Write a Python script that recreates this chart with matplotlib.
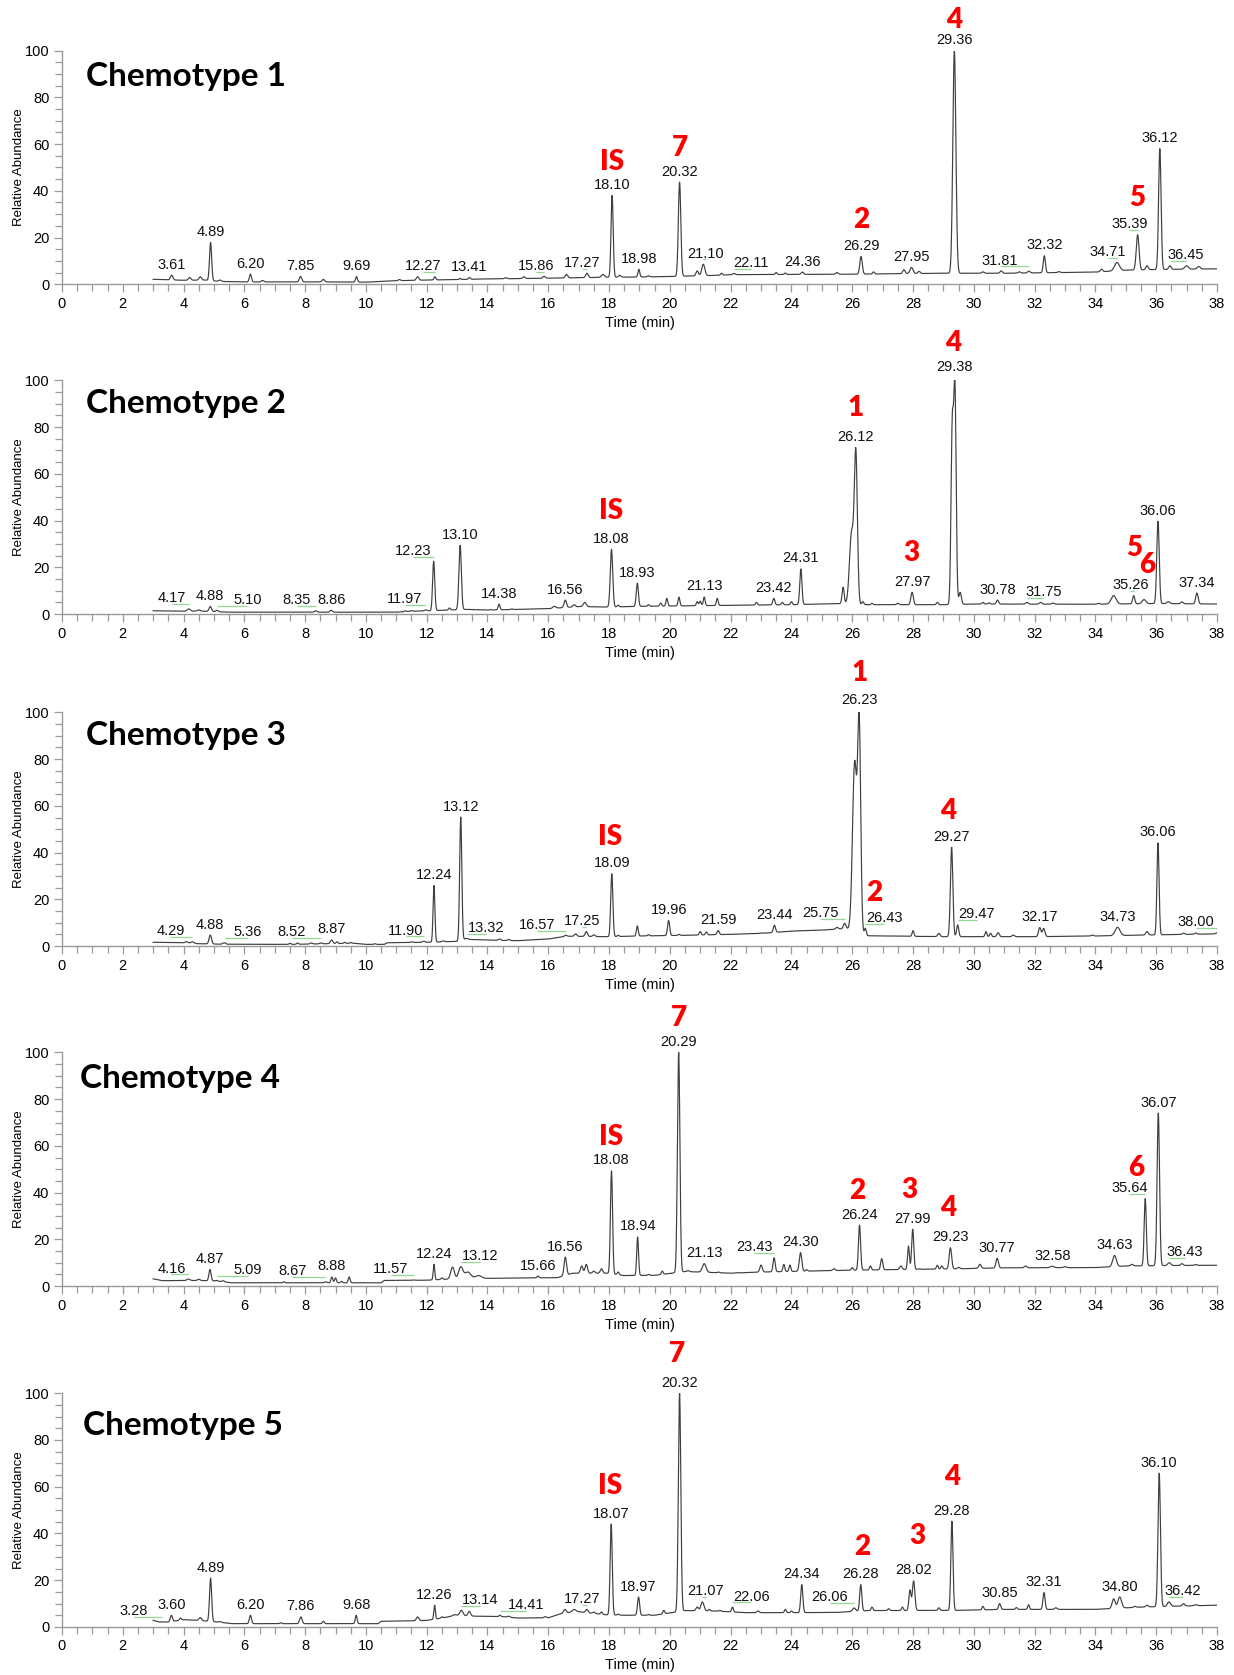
import numpy as np
import matplotlib.pyplot as plt
from matplotlib.ticker import MultipleLocator

plt.rcParams['font.family'] = ['Liberation Sans', 'DejaVu Sans']

# ---------------------------------------------------------------------------
# data
# baseline nodes (time, rel. abundance), peaks (rt, apex height, sigma in min)
# ---------------------------------------------------------------------------

# Chemotype 1
c1_base_t = [3.0, 3.5, 4.0, 4.7, 5.2, 6.0, 9.0, 10.0, 11.0, 12.0, 13.0, 14.0, 15.0, 16.0,
             17.0, 18.0, 19.0, 20.0, 21.5, 22.0, 26.0, 29.0, 31.0, 34.0, 35.0, 36.0, 38.0]
c1_base_y = [2.1, 1.9, 1.7, 1.8, 1.2, 1.0, 1.0, 0.9, 1.5, 1.8, 2.0, 2.3, 2.4, 2.6,
             2.8, 3.0, 3.1, 3.3, 3.8, 4.1, 4.3, 4.7, 4.7, 5.2, 6.0, 6.3, 6.6]
c1_peaks = [(3.61, 3.9, .04), (4.89, 17.9, .035), (6.20, 4.3, .035), (7.85, 3.3, .04),
            (9.69, 3.3, .03), (12.27, 3.2, .03), (13.41, 2.9, .03), (15.86, 3.4, .04),
            (17.27, 4.7, .04), (18.10, 38.0, .035), (18.98, 6.4, .03), (20.32, 43.7, .04),
            (21.10, 8.6, .05), (22.11, 4.6, .04), (24.36, 5.2, .04), (26.29, 11.9, .04),
            (27.95, 7.2, .05), (29.36, 100.0, .05), (31.81, 5.6, .04), (32.32, 12.2, .035),
            (34.71, 9.3, .08), (35.39, 21.2, .045), (36.12, 58.0, .04), (36.45, 7.9, .04)]
c1_minor = [(4.2, 2.9, .04), (4.55, 3.2, .04), (5.2, 1.8, .04), (6.6, 1.6, .04), (8.6, 2.1, .04),
            (11.1, 2.0, .04), (11.7, 3.2, .04), (13.1, 2.5, .03), (14.6, 2.8, .04), (15.2, 3.2, .04),
            (16.6, 4.2, .04), (17.8, 4.2, .05), (18.35, 3.8, .04), (19.3, 3.6, .04), (20.9, 5.7, .04),
            (21.7, 4.7, .03), (23.5, 5.0, .03), (23.8, 4.8, .03), (25.5, 5.0, .04), (26.7, 5.3, .03),
            (27.7, 6.2, .04), (28.2, 5.5, .04), (30.3, 5.3, .04), (30.9, 5.7, .04), (31.5, 5.3, .04),
            (32.8, 5.4, .04), (34.2, 6.4, .04), (35.7, 7.9, .04), (37.0, 7.9, .06), (37.4, 7.6, .05)]
c1_compounds = [("IS", 18.10), ("7", 20.32), ("2", 26.29), ("4", 29.36), ("5", 35.39)]

# Chemotype 2
c2_base_t = [3.0, 4.0, 4.5, 5.5, 11.0, 11.5, 12.1, 12.5, 13.3, 14.0, 15.0, 16.0, 17.0, 18.0,
             19.0, 21.0, 22.5, 24.0, 25.5, 26.5, 29.0, 30.0, 34.0, 36.0, 38.0]
c2_base_y = [1.4, 1.2, 1.3, 0.8, 0.8, 1.2, 1.4, 1.6, 2.0, 1.7, 2.0, 2.3, 3.2, 3.0,
             3.3, 3.6, 3.8, 4.0, 4.5, 4.0, 4.0, 4.3, 4.2, 4.5, 4.3]
c2_peaks = [(4.17, 2.2, .05), (4.88, 3.3, .04), (5.10, 1.6, .04), (8.35, 1.4, .04),
            (8.86, 1.6, .04), (11.97, 1.8, .04), (12.23, 22.6, .035), (13.10, 29.4, .04),
            (14.38, 4.2, .03), (16.56, 6.0, .04), (18.08, 27.7, .04), (18.93, 13.2, .035),
            (21.13, 7.3, .03), (23.42, 6.7, .035), (24.31, 19.3, .035), (26.12, 66.8, .05),
            (27.97, 9.3, .04), (29.38, 94.1, .04), (30.78, 6.0, .035), (31.75, 5.0, .04),
            (35.26, 7.9, .035), (36.06, 39.7, .04), (37.34, 9.0, .04)]
c2_minor = [(4.5, 1.8, .04), (11.3, 1.4, .03), (11.5, 1.5, .03), (12.75, 2.6, .03), (14.1, 1.9, .03),
            (14.8, 2.2, .03), (16.2, 3.3, .05), (16.85, 4.0, .04), (17.2, 5.0, .05), (18.3, 3.8, .03),
            (19.3, 4.0, .03), (19.7, 4.7, .03), (19.9, 6.7, .03), (20.3, 7.2, .03), (20.9, 5.3, .03),
            (21.0, 5.5, .03), (21.56, 6.7, .03), (22.85, 5.0, .03), (23.7, 5.0, .03), (24.0, 5.3, .03),
            (25.7, 11.5, .035), (25.98, 34.8, .07), (26.35, 5.3, .03), (26.65, 4.6, .03), (27.5, 4.6, .04),
            (28.8, 5.0, .03), (29.29, 77.8, .04), (29.55, 9.3, .04), (30.3, 5.0, .03), (30.5, 4.8, .03),
            (32.2, 5.0, .04), (32.6, 4.7, .04), (34.1, 4.6, .04), (34.6, 7.9, .08), (35.6, 6.2, .06),
            (36.4, 5.3, .05), (36.85, 5.2, .04)]
c2_compounds = [("IS", 18.08), ("1", 26.12), ("3", 27.97), ("4", 29.38), ("5", 35.26), ("6", 35.26)]

# Chemotype 3
c3_base_t = [3.0, 4.0, 4.5, 5.2, 7.5, 9.6, 10.0, 10.6, 10.7, 12.0, 12.5, 13.0, 13.25, 14.4, 15.0,
             16.0, 16.6, 18.0, 19.0, 20.5, 22.0, 23.0, 24.0, 25.0, 25.8, 26.5, 29.0, 32.0, 34.0,
             36.0, 38.0]
c3_base_y = [1.6, 1.4, 1.0, 0.8, 0.7, 1.2, 0.7, 0.7, 1.4, 1.6, 1.8, 2.0, 2.9, 2.4, 2.3,
             3.0, 4.2, 4.0, 4.3, 4.6, 5.0, 5.4, 6.4, 6.8, 7.5, 4.4, 4.0, 4.0, 4.3,
             4.8, 5.2]
c3_peaks = [(4.29, 1.8, .05), (4.88, 4.7, .04), (5.36, 1.3, .03), (8.52, 1.3, .04),
            (8.87, 2.6, .04), (11.90, 2.1, .04), (12.24, 25.9, .03), (13.12, 55.2, .035),
            (13.32, 3.3, .04), (16.57, 4.6, .04), (17.25, 6.2, .04), (18.09, 30.9, .035),
            (19.96, 10.9, .035), (21.59, 6.6, .035), (23.44, 8.9, .035), (25.75, 9.7, .04),
            (26.23, 92.7, .05), (26.43, 7.6, .03), (29.27, 42.3, .04), (29.47, 9.0, .035),
            (32.17, 7.9, .04), (34.73, 8.0, .08), (36.06, 44.1, .035), (38.00, 5.7, .04)]
c3_minor = [(4.1, 1.9, .04), (5.3, 1.2, .03), (7.5, 1.2, .03), (7.75, 1.3, .03), (8.2, 1.3, .04),
            (9.05, 1.8, .03), (9.3, 1.6, .03), (9.5, 1.5, .03), (10.3, 1.0, .03), (11.5, 1.8, .04),
            (12.55, 2.2, .04), (14.4, 3.0, .04), (14.7, 2.8, .04), (16.9, 5.2, .04), (17.5, 4.8, .04),
            (18.3, 4.6, .03), (18.93, 8.6, .03), (19.3, 4.9, .03), (20.3, 5.0, .03), (21.0, 6.2, .03),
            (21.2, 6.0, .03), (23.0, 5.6, .04), (25.5, 8.0, .04), (26.08, 78.4, .07), (28.0, 6.6, .03),
            (28.85, 5.4, .04), (30.4, 6.2, .03), (30.55, 5.5, .03), (30.8, 5.7, .04), (31.3, 4.7, .04),
            (32.3, 7.5, .04), (33.9, 4.7, .04), (35.7, 6.2, .04), (36.9, 5.5, .04), (37.3, 5.6, .04)]
c3_compounds = [("IS", 18.09), ("1", 26.23), ("2", 26.43), ("4", 29.27)]

# Chemotype 4
c4_base_t = [3.0, 3.3, 4.5, 5.0, 5.6, 10.5, 10.6, 12.0, 12.6, 14.0, 16.3, 16.8, 17.9, 18.5,
             19.5, 20.5, 21.0, 22.0, 23.0, 24.5, 26.0, 29.5, 31.0, 34.0, 35.0, 36.5, 38.0]
c4_base_y = [3.1, 2.3, 2.4, 2.2, 1.4, 1.4, 2.4, 2.5, 2.9, 3.3, 3.6, 5.5, 5.5, 4.5,
             4.6, 6.2, 6.0, 5.5, 6.0, 6.4, 6.8, 7.4, 7.8, 7.9, 8.6, 8.8, 8.9]
c4_peaks = [(4.16, 3.0, .05), (4.87, 7.1, .035), (5.09, 2.4, .04), (8.67, 1.8, .04),
            (8.88, 3.9, .03), (11.57, 2.6, .04), (12.24, 9.3, .025), (13.12, 8.1, .07),
            (15.66, 4.3, .03), (16.56, 12.4, .04), (18.08, 49.3, .035), (18.94, 21.0, .03),
            (20.29, 100.0, .04), (21.13, 9.6, .06), (23.43, 12.1, .035), (24.30, 14.3, .04),
            (26.24, 26.1, .035), (27.99, 24.3, .035), (29.23, 16.4, .04), (30.77, 11.9, .04),
            (32.58, 8.5, .06), (34.63, 13.1, .06), (35.64, 37.4, .035), (36.07, 74.0, .04),
            (36.43, 10.0, .05)]
c4_minor = [(4.5, 2.9, .04), (5.3, 2.3, .04), (7.3, 1.8, .03), (9.0, 3.5, .03), (9.2, 2.0, .03),
            (9.45, 3.9, .03), (12.5, 3.5, .03), (12.85, 8.1, .06), (13.35, 6.0, .1), (13.7, 4.5, .1),
            (17.1, 8.6, .04), (17.25, 9.3, .04), (17.5, 6.4, .04), (17.75, 7.4, .04), (18.3, 6.0, .03),
            (19.3, 5.0, .03), (19.75, 6.4, .03), (20.6, 6.6, .04), (21.6, 6.0, .03), (22.2, 5.7, .03),
            (23.0, 9.0, .04), (23.75, 9.3, .03), (23.95, 9.0, .03), (24.5, 7.0, .03), (25.4, 7.4, .04),
            (26.0, 7.9, .03), (26.6, 8.6, .03), (26.97, 11.7, .035), (27.6, 8.6, .04), (27.85, 17.1, .03),
            (28.2, 7.4, .03), (28.8, 8.9, .03), (28.95, 8.6, .03), (29.5, 8.0, .04), (30.2, 9.3, .04),
            (31.7, 8.6, .04), (33.0, 8.3, .05), (35.2, 9.3, .04), (36.85, 9.6, .04), (37.3, 9.2, .04)]
c4_compounds = [("IS", 18.08), ("7", 20.29), ("2", 26.24), ("3", 27.99), ("4", 29.23), ("6", 35.64)]

# Chemotype 5
c5_base_t = [3.0, 3.2, 3.5, 4.0, 4.5, 5.2, 5.6, 10.4, 10.5, 11.5, 12.0, 12.5, 13.0, 13.6, 14.5,
             15.0, 16.0, 16.5, 17.0, 17.9, 18.5, 19.5, 20.5, 21.5, 22.5, 23.7, 25.5, 26.5, 29.5,
             31.0, 34.0, 35.5, 38.0]
c5_base_y = [2.8, 2.1, 2.1, 3.1, 2.8, 2.0, 1.4, 1.4, 2.4, 2.6, 2.8, 3.8, 5.0, 4.6, 4.4,
             3.8, 3.9, 6.0, 6.5, 5.2, 5.0, 5.0, 7.0, 6.8, 6.1, 6.1, 6.2, 7.0, 7.1,
             7.5, 7.5, 8.5, 9.3]
c5_peaks = [(3.28, 2.2, .04), (3.60, 5.0, .035), (4.89, 20.9, .035), (6.20, 5.0, .035),
            (7.86, 4.3, .04), (9.68, 5.0, .03), (12.26, 9.3, .025), (13.14, 7.1, .05),
            (14.41, 5.0, .03), (17.27, 7.5, .04), (18.07, 44.0, .035), (18.97, 12.8, .035),
            (20.32, 100.0, .04), (21.07, 10.7, .05), (22.06, 8.5, .03), (24.34, 18.1, .035),
            (26.06, 8.1, .05), (26.28, 18.1, .035), (28.02, 19.7, .04), (29.28, 45.2, .035),
            (30.85, 10.0, .035), (32.31, 14.7, .035), (34.80, 12.8, .06), (36.10, 65.8, .04),
            (36.42, 10.7, .05)]
c5_minor = [(3.9, 3.8, .03), (4.55, 4.0, .04), (5.2, 2.3, .04), (7.2, 1.8, .03), (8.6, 2.4, .03),
            (11.7, 4.3, .04), (12.5, 4.3, .03), (12.9, 5.2, .05), (13.4, 6.7, .04), (14.7, 4.6, .04),
            (15.9, 4.4, .04), (16.55, 7.5, .04), (16.85, 7.5, .06), (17.5, 6.3, .04), (17.75, 6.4, .03),
            (18.3, 5.5, .03), (19.3, 5.3, .03), (19.8, 7.1, .03), (20.9, 8.5, .04), (21.3, 7.5, .03),
            (21.65, 7.1, .03), (22.9, 6.8, .04), (23.8, 7.5, .03), (24.0, 6.8, .03), (26.65, 8.5, .03),
            (27.2, 7.8, .03), (27.65, 8.5, .03), (27.9, 15.7, .035), (28.85, 8.2, .03), (30.3, 8.8, .03),
            (31.4, 8.3, .03), (31.8, 9.5, .03), (32.7, 8.2, .04), (34.6, 12.0, .05), (35.3, 8.8, .04),
            (35.7, 9.3, .04), (36.9, 10.0, .04), (37.3, 9.5, .05)]
c5_compounds = [("IS", 18.07), ("7", 20.32), ("2", 26.28), ("3", 28.02), ("4", 29.28)]

names = ["Chemotype 1", "Chemotype 2", "Chemotype 3", "Chemotype 4", "Chemotype 5"]
base_t = [c1_base_t, c2_base_t, c3_base_t, c4_base_t, c5_base_t]
base_y = [c1_base_y, c2_base_y, c3_base_y, c4_base_y, c5_base_y]
peaks = [c1_peaks, c2_peaks, c3_peaks, c4_peaks, c5_peaks]
minor = [c1_minor, c2_minor, c3_minor, c4_minor, c5_minor]
compounds = [c1_compounds, c2_compounds, c3_compounds, c4_compounds, c5_compounds]

# ---------------------------------------------------------------------------
# layout: where the rt labels were pushed sideways, offsets of red tags
# ---------------------------------------------------------------------------
label_shift = [
    {12.27: -0.40, 15.86: -0.26, 17.27: -0.15, 21.10: 0.08, 22.11: 0.56,
     31.81: -0.95, 34.71: -0.29, 35.39: -0.27, 36.45: 0.52},
    {4.17: -0.54, 5.10: 1.0, 8.35: -0.63, 11.97: -0.69, 12.23: -0.69,
     31.75: 0.54, 35.26: -0.11},
    {4.29: -0.72, 5.36: 0.75, 8.52: -0.96, 11.90: -0.58, 13.32: 0.64, 16.57: -0.94,
     17.25: -0.13, 25.75: -0.8, 26.43: 0.62, 29.47: 0.63, 38.00: -0.7},
    {4.16: -0.56, 5.09: 1.02, 8.67: -1.09, 11.57: -0.75, 13.12: 0.64, 23.43: -0.66,
     35.64: -0.52, 36.43: 0.51},
    {3.28: -0.92, 13.14: 0.62, 14.41: 0.87, 17.27: -0.17, 21.07: 0.11, 22.06: 0.62,
     26.06: -0.8, 36.42: 0.45},
]
# (dx from rt, dy above the rt label) for the red compound tags
tag_offset = [
    [(0, 9.8), (0, 10.2), (0, 11.0), (0, 8.8), (0, 11.0)],
    [(0, 11.7), (-0.02, 12.5), (-0.02, 12.5), (-0.05, 10.3), (0.02, 15.7), (0.44, 8.6)],
    [(-0.05, 11.1), (0, 11.5), (0.30, 10.7), (-0.12, 11.2)],
    [(0, 10.0), (0, 10.4), (-0.08, 10.1), (-0.12, 12.1), (-0.06, 12.4), (-0.29, 8.8)],
    [(-0.03, 11.7), (-0.1, 12.4), (0.06, 11.8), (0.11, 14.7), (0, 14.3)],
]
ax_bottom = [0.8303, 0.6334, 0.4352, 0.2322, 0.0287]
title_xy = [(0.021, 0.888), (0.021, 0.90), (0.021, 0.90), (0.016, 0.888), (0.018, 0.863)]

t = np.linspace(3.0, 38.0, 7001)


def build_trace(bt, by, plist):
    y = np.interp(t, bt, by)
    for rt, apex, w in plist:
        amp = apex - np.interp(rt, bt, by)
        y = y + amp * np.exp(-0.5 * ((t - rt) / w) ** 2)
    return y


fig = plt.figure(figsize=(12.34, 16.75), dpi=100)

for i in range(5):
    ax = fig.add_axes([0.0502, ax_bottom[i], 0.936, 0.1395])
    y = build_trace(base_t[i], base_y[i], peaks[i] + minor[i])
    ax.plot(t, y, color='#3f3f3f', lw=0.85)

    ax.set_xlim(0, 38)
    ax.set_ylim(0, 100)
    ax.xaxis.set_major_locator(MultipleLocator(2))
    ax.xaxis.set_minor_locator(MultipleLocator(0.5))
    ax.yaxis.set_major_locator(MultipleLocator(20))
    ax.yaxis.set_minor_locator(MultipleLocator(5))
    ax.tick_params(which='major', length=6, width=0.9, color='#9a9a9a', labelsize=10.5, pad=3)
    ax.tick_params(which='minor', length=5, width=0.9, color='#9a9a9a')
    for side in ['top', 'right']:
        ax.spines[side].set_visible(False)
    for side in ['left', 'bottom']:
        ax.spines[side].set_color('#9a9a9a')
        ax.spines[side].set_linewidth(1.0)

    ax.text(0.5, -0.165, "Time (min)", transform=ax.transAxes, ha='center', va='center',
            fontsize=10.5)
    ax.text(-0.037, 0.5, "Relative Abundance", transform=ax.transAxes, ha='center',
            va='center', rotation=90, fontsize=9.5)
    ax.text(title_xy[i][0], title_xy[i][1], names[i], transform=ax.transAxes,
            ha='left', va='center', fontsize=24, fontweight='bold', family=['Lato', 'DejaVu Sans'])

    # retention time labels on top of the peaks
    lab_pos = {}
    for rt, apex, w in peaks[i]:
        top = y[np.abs(t - rt) <= 0.03].max()
        dx = label_shift[i].get(rt, 0.0)
        ly = top + 4.5
        lab_pos[rt] = ly
        ax.text(rt + dx, ly, f"{rt:.2f}", ha='center', va='center', fontsize=10.5,
                color='#111111', clip_on=False)
        if dx != 0.0:
            ax.plot([rt + dx, rt], [top + 2.0, top + 2.0], color='#95d895', lw=0.9,
                    solid_capstyle='butt', clip_on=False)

    # red compound tags
    for (tag, rt), (dx, dy) in zip(compounds[i], tag_offset[i]):
        ax.text(rt + dx, lab_pos[rt] + dy, tag, ha='center', va='center', color='#ff0000',
                fontsize=20, fontweight='heavy', family=['Lato', 'DejaVu Sans'], clip_on=False)

fig.savefig("out.png", dpi=100)
